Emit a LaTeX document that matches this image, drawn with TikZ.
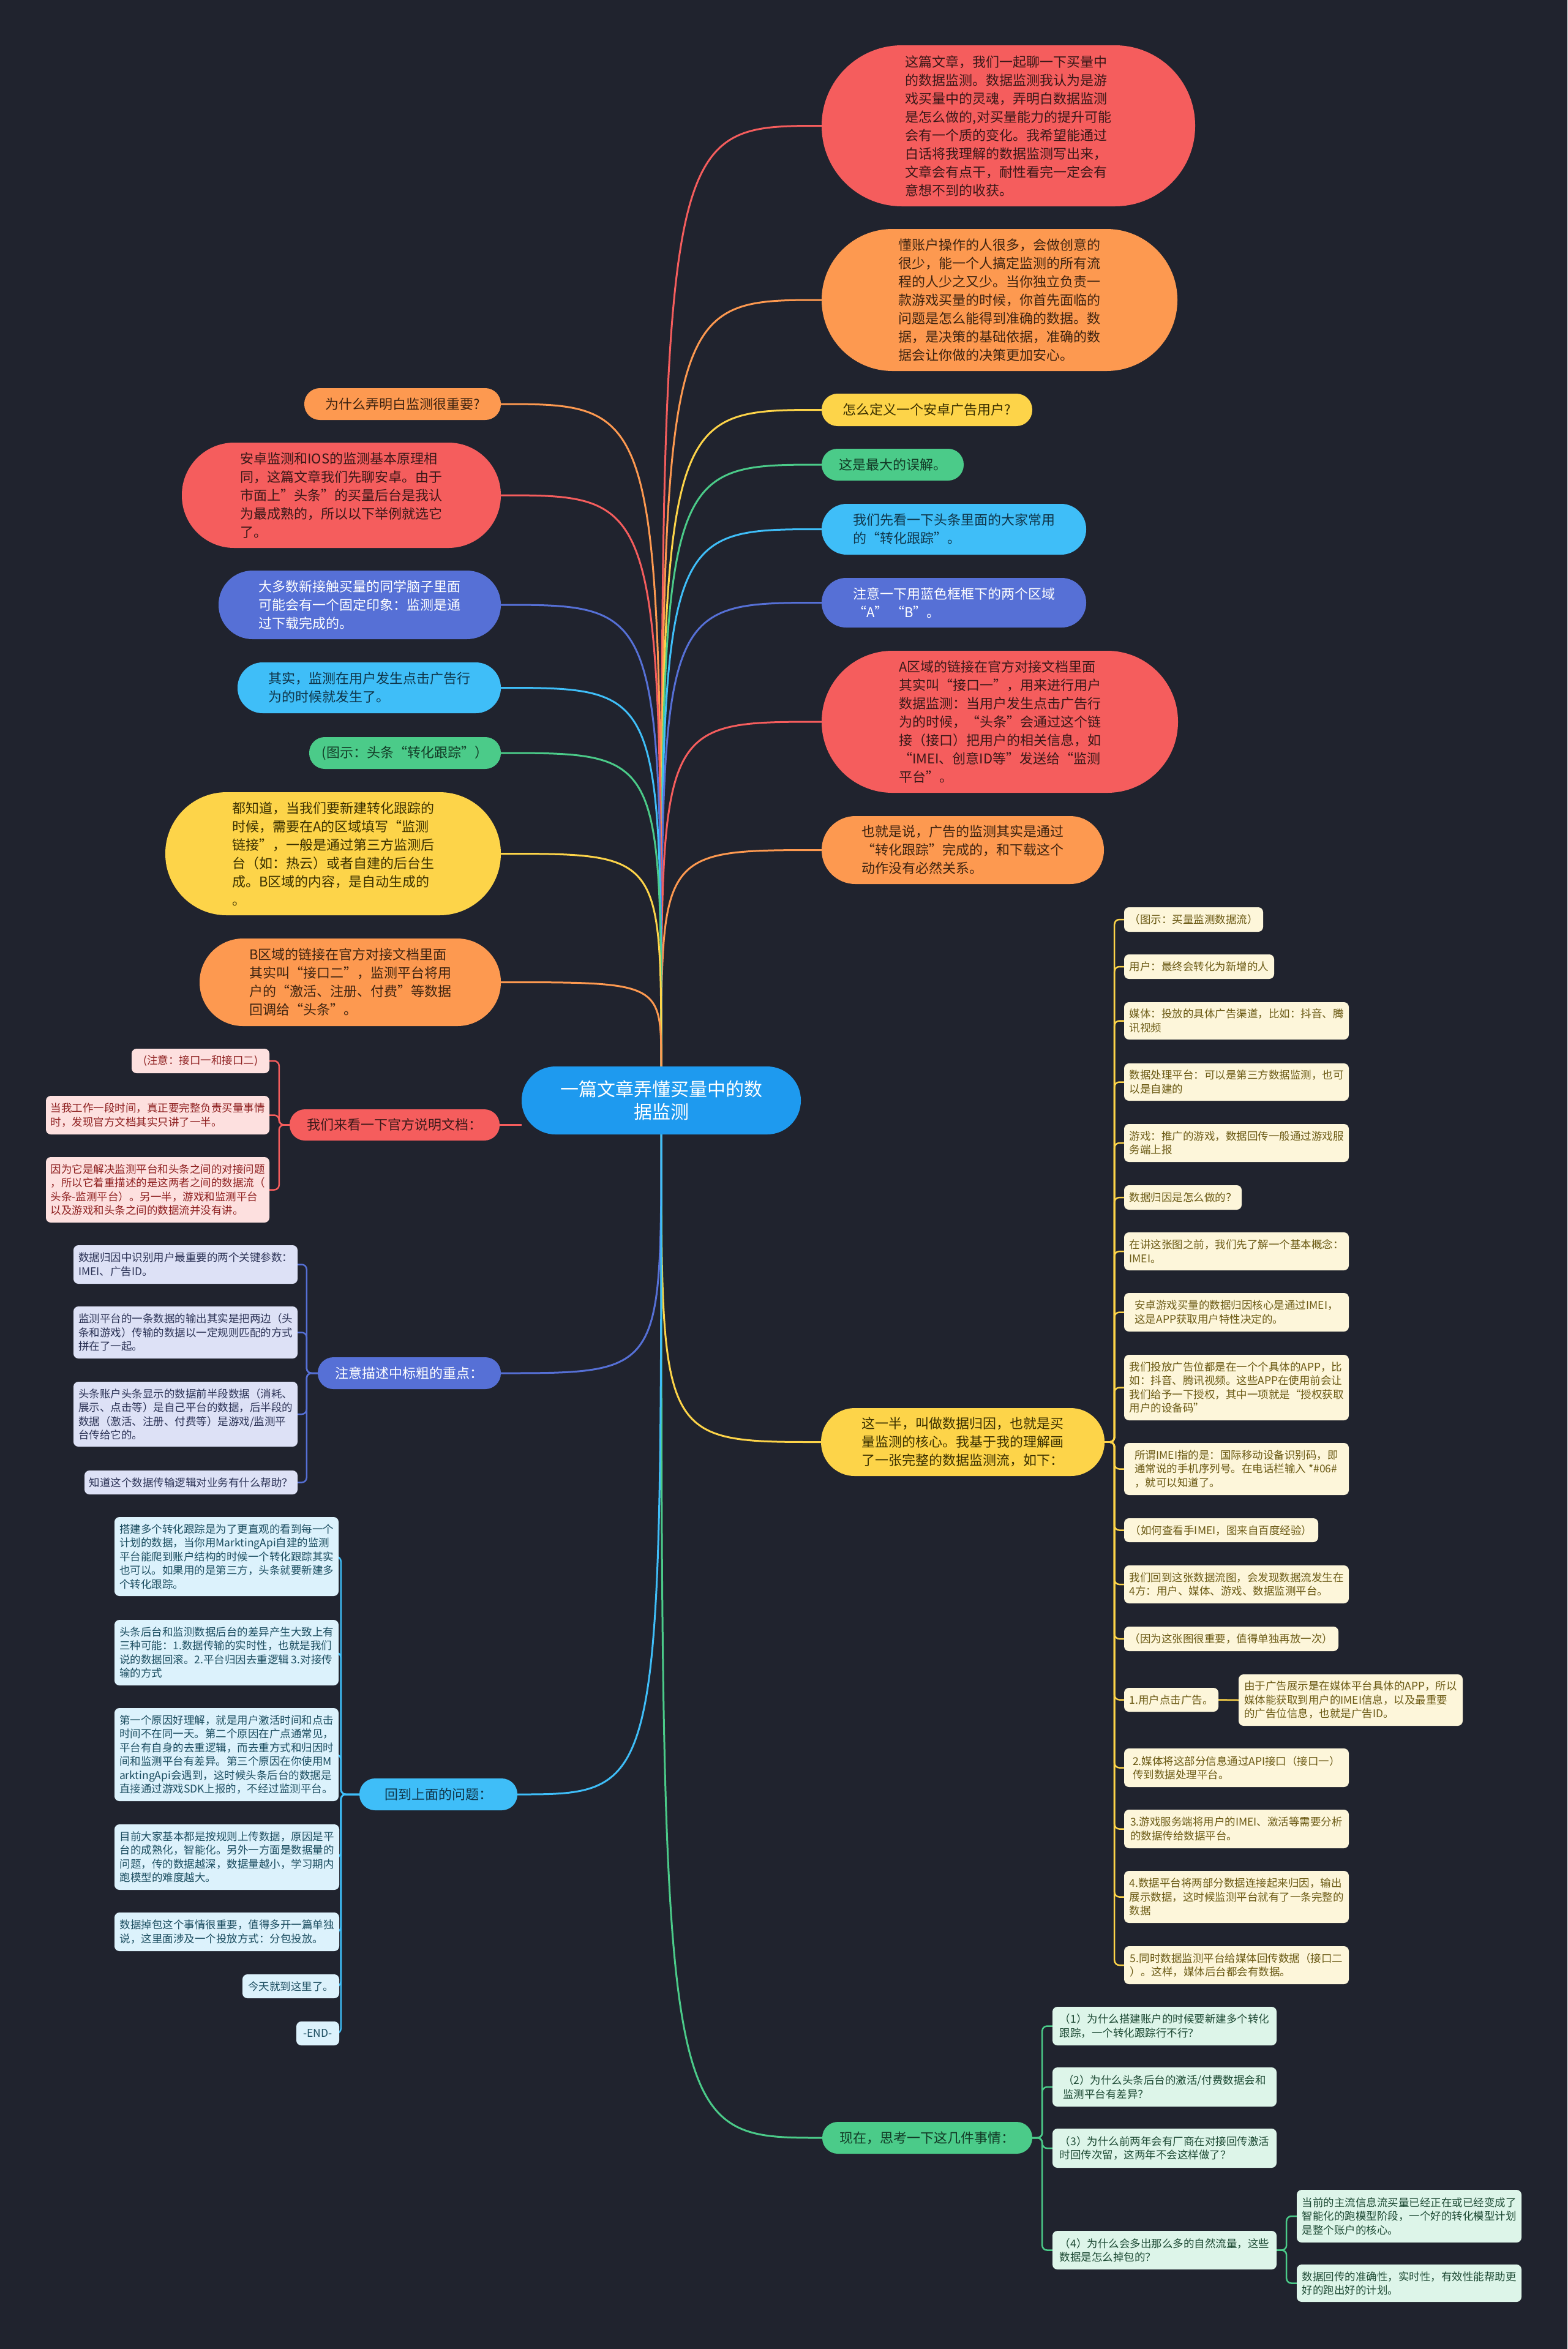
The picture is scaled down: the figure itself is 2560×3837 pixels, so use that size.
\documentclass[tikz,border=0pt]{standalone}
\usepackage{fontspec}
\setmainfont{Noto Sans CJK SC}
\usetikzlibrary{calc}
\definecolor{bgc}{HTML}{20232E}
\definecolor{ccenter}{HTML}{1E9AEF}
\definecolor{cred}{HTML}{F55D5D}
\definecolor{corange}{HTML}{FD9950}
\definecolor{cyellow}{HTML}{FDD449}
\definecolor{cgreen}{HTML}{4BCB89}
\definecolor{ccyan}{HTML}{3FBEF8}
\definecolor{cblue}{HTML}{5670D6}
\definecolor{tred}{HTML}{3A1818}
\definecolor{torange}{HTML}{3D2310}
\definecolor{tyellow}{HTML}{3A3000}
\definecolor{tgreen}{HTML}{123A26}
\definecolor{tcyan}{HTML}{0F3549}
\definecolor{fpink}{HTML}{FDE0DF}
\definecolor{tpink}{HTML}{8E1F1F}
\definecolor{flav}{HTML}{DDE1F6}
\definecolor{tlav}{HTML}{2C3356}
\definecolor{flcyan}{HTML}{DCF2FC}
\definecolor{tlcyan}{HTML}{1B4D60}
\definecolor{fcream}{HTML}{FDF6DA}
\definecolor{tcream}{HTML}{6B5A14}
\definecolor{fmint}{HTML}{DDF5E9}
\definecolor{tmint}{HTML}{1D4A34}
\pgfdeclarelayer{background}
\pgfsetlayers{background,main}
\tikzset{
  lone/.style={inner sep=0pt, align=left, font=\fontsize{22pt}{30pt}\selectfont},
  ltwo/.style={inner sep=0pt, align=left, rounded corners=8pt, font=\fontsize{17.5pt}{22.5pt}\selectfont},
  pinkbox/.style={ltwo, fill=fpink, text=tpink},
  lavbox/.style={ltwo, fill=flav, text=tlav},
  cyanbox/.style={ltwo, fill=flcyan, text=tlcyan},
  creambox/.style={ltwo, fill=fcream, text=tcream},
  mintbox/.style={ltwo, fill=fmint, text=tmint},
  conn/.style={line width=3pt},
  bus/.style={line width=2.5pt, rounded corners=8pt},
}
\begin{document}
\begin{tikzpicture}[x=1pt,y=-1pt]
\useasboundingbox (0,0) rectangle (2560,3837);

% ---------- centre ----------
\node[lone, fill=ccenter, text=white, minimum width=456, minimum height=111, rounded corners=55, font=\fontsize{30pt}{37pt}\selectfont, align=center] (C) at (1080,1797.5) {一篇文章弄懂买量中的数\\据监测};

% ---------- right level 1 ----------
\node[lone, fill=cred, text=tred, minimum width=610, minimum height=263, rounded corners=131] (r1) at (1647,205.5) {这篇文章，我们一起聊一下买量中\\的数据监测。数据监测我认为是游\\戏买量中的灵魂，弄明白数据监测\\是怎么做的,对买量能力的提升可能\\会有一个质的变化。我希望能通过\\白话将我理解的数据监测写出来，\\文章会有点干，耐性看完一定会有\\意想不到的收获。};
\node[lone, fill=corange, text=torange, minimum width=581, minimum height=232, rounded corners=115.5] (r2) at (1632.5,490) {懂账户操作的人很多，会做创意的\\很少，能一个人搞定监测的所有流\\程的人少之又少。当你独立负责一\\款游戏买量的时候，你首先面临的\\问题是怎么能得到准确的数据。数\\据，是决策的基础依据，准确的数\\据会让你做的决策更加安心。};
\node[lone, fill=cyellow, text=tyellow, minimum width=344, minimum height=53, rounded corners=26] (r3) at (1514,669.5) {怎么定义一个安卓广告用户?};
\node[lone, fill=cgreen, text=tgreen, minimum width=232, minimum height=52, rounded corners=25.5] (r4) at (1458,759) {这是最大的误解。};
\node[lone, fill=ccyan, text=tcyan, minimum width=432, minimum height=83, rounded corners=41] (r5) at (1558,864.5) {我们先看一下头条里面的大家常用\\的“转化跟踪”。};
\node[lone, fill=cblue, text=white, minimum width=432, minimum height=81, rounded corners=40] (r6) at (1558,984.5) {注意一下用蓝色框框下的两个区域\\“A” “B”。};
\node[lone, fill=cred, text=tred, minimum width=582, minimum height=232, rounded corners=115.5] (r7) at (1633,1179) {A区域的链接在官方对接文档里面\\其实叫“接口一”，用来进行用户\\数据监测：当用户发生点击广告行\\为的时候，“头条”会通过这个链\\接（接口）把用户的相关信息，如\\“IMEI、创意ID等”发送给“监测\\平台”。};
\node[lone, fill=corange, text=torange, minimum width=461, minimum height=111, rounded corners=55] (r8) at (1572.5,1388.5) {也就是说，广告的监测其实是通过\\“转化跟踪”完成的，和下载这个\\动作没有必然关系。};
\node[lone, fill=cyellow, text=tyellow, minimum width=463, minimum height=111, rounded corners=55] (r9) at (1572.5,2355.5) {这一半，叫做数据归因，也就是买\\量监测的核心。我基于我的理解画\\了一张完整的数据监测流，如下：};
\node[lone, fill=cgreen, text=tgreen, minimum width=343, minimum height=52, rounded corners=25.5] (r10) at (1514.5,3492) {现在，思考一下这几件事情：};

% ---------- left level 1 ----------
\node[lone, fill=corange, text=torange, minimum width=321, minimum height=52, rounded corners=25.5] (l1) at (657.5,660) {为什么弄明白监测很重要?};
\node[lone, fill=cred, text=tred, minimum width=521, minimum height=172, rounded corners=85.5] (l2) at (557.5,809) {安卓监测和IOS的监测基本原理相\\同，这篇文章我们先聊安卓。由于\\市面上”头条”的买量后台是我认\\为最成熟的，所以以下举例就选它\\了。};
\node[lone, fill=cblue, text=white, minimum width=461, minimum height=112, rounded corners=55.5] (l3) at (587.5,988) {大多数新接触买量的同学脑子里面\\可能会有一个固定印象：监测是通\\过下载完成的。};
\node[lone, fill=ccyan, text=tcyan, minimum width=430, minimum height=83, rounded corners=41] (l4) at (603,1123.5) {其实，监测在用户发生点击广告行\\为的时候就发生了。};
\node[lone, fill=cgreen, text=tgreen, minimum width=313, minimum height=52, rounded corners=25.5] (l5) at (661.5,1230) {(图示：头条“转化跟踪”）};
\node[lone, fill=cyellow, text=tyellow, minimum width=548, minimum height=201, rounded corners=100] (l6) at (544,1394.5) {都知道，当我们要新建转化跟踪的\\时候，需要在A的区域填写“监测\\链接”，一般是通过第三方监测后\\台（如：热云）或者自建的后台生\\成。B区域的内容，是自动生成的\\。};
\node[lone, fill=corange, text=torange, minimum width=492, minimum height=143, rounded corners=71] (l7) at (572,1604.5) {B区域的链接在官方对接文档里面\\其实叫“接口二”，监测平台将用\\户的“激活、注册、付费”等数据\\回调给“头条”。};
\node[lone, fill=cred, text=tred, minimum width=343, minimum height=51, rounded corners=25] (l8) at (644.5,1837.5) {我们来看一下官方说明文档：};
\node[lone, fill=cblue, text=white, minimum width=299, minimum height=52, rounded corners=25.5] (l9) at (668.5,2243) {注意描述中标粗的重点：};
\node[lone, fill=ccyan, text=tcyan, minimum width=258, minimum height=52, rounded corners=25.5] (l10) at (716,2931) {回到上面的问题：};

% ---------- children of l8 ----------
\node[pinkbox, minimum width=225, minimum height=40] (l8a) at (327.5,1733) {(注意：接口一和接口二)};
\node[pinkbox, minimum width=365, minimum height=63] (l8b) at (257.5,1821.5) {当我工作一段时间，真正要完整负责买量事情\\时，发现官方文档其实只讲了一半。};
\node[pinkbox, minimum width=365, minimum height=107] (l8c) at (257.5,1943.5) {因为它是解决监测平台和头条之间的对接问题\\，所以它着重描述的是这两者之间的数据流（\\头条-监测平台）。另一半，游戏和监测平台\\以及游戏和头条之间的数据流并没有讲。};

% ---------- children of l9 ----------
\node[lavbox, minimum width=366, minimum height=63] (l9a) at (303,2065.5) {数据归因中识别用户最重要的两个关键参数：\\IMEI、广告ID。};
\node[lavbox, minimum width=366, minimum height=85] (l9b) at (303,2176.5) {监测平台的一条数据的输出其实是把两边（头\\条和游戏）传输的数据以一定规则匹配的方式\\拼在了一起。};
\node[lavbox, minimum width=366, minimum height=106] (l9c) at (303,2310) {头条账户头条显示的数据前半段数据（消耗、\\展示、点击等）是自己平台的数据，后半段的\\数据（激活、注册、付费等）是游戏/监测平\\台传给它的。};
\node[lavbox, minimum width=348, minimum height=39] (l9d) at (312,2421.5) {知道这个数据传输逻辑对业务有什么帮助？};

% ---------- children of l10 ----------
\node[cyanbox, minimum width=366, minimum height=129] (l10a) at (370,2542.5) {搭建多个转化跟踪是为了更直观的看到每一个\\计划的数据，当你用MarktingApi自建的监测\\平台能爬到账户结构的时候一个转化跟踪其实\\也可以。如果用的是第三方，头条就要新建多\\个转化跟踪。};
\node[cyanbox, minimum width=366, minimum height=107] (l10b) at (370,2699.5) {头条后台和监测数据后台的差异产生大致上有\\三种可能：1.数据传输的实时性，也就是我们\\说的数据回滚。2.平台归因去重逻辑 3.对接传\\输的方式};
\node[cyanbox, minimum width=366, minimum height=152] (l10c) at (370,2866) {第一个原因好理解，就是用户激活时间和点击\\时间不在同一天。第二个原因在广点通常见，\\平台有自身的去重逻辑，而去重方式和归因时\\间和监测平台有差异。第三个原因在你使用M\\arktingApi会遇到，这时候头条后台的数据是\\直接通过游戏SDK上报的，不经过监测平台。};
\node[cyanbox, minimum width=367, minimum height=107] (l10d) at (370.5,3033.5) {目前大家基本都是按规则上传数据，原因是平\\台的成熟化，智能化。另外一方面是数据量的\\问题，传的数据越深，数据量越小，学习期内\\跑模型的难度越大。};
\node[cyanbox, minimum width=367, minimum height=63] (l10e) at (370.5,3155.5) {数据掉包这个事情很重要，值得多开一篇单独\\说，这里面涉及一个投放方式：分包投放。};
\node[cyanbox, minimum width=158, minimum height=39] (l10f) at (475,3244.5) {今天就到这里了。};
\node[cyanbox, minimum width=70, minimum height=39] (l10g) at (519,3321.5) {-END-};

% ---------- children of r9 ----------
\node[creambox, minimum width=227, minimum height=40] (y1) at (1949.5,1502) {（图示：买量监测数据流）};
\node[creambox, minimum width=245, minimum height=40] (y2) at (1958.5,1579) {用户：最终会转化为新增的人};
\node[creambox, minimum width=367, minimum height=61] (y3) at (2019.5,1667.5) {媒体：投放的具体广告渠道，比如：抖音、腾\\讯视频};
\node[creambox, minimum width=367, minimum height=61] (y4) at (2019.5,1767.5) {数据处理平台：可以是第三方数据监测，也可\\以是自建的};
\node[creambox, minimum width=367, minimum height=62] (y5) at (2019.5,1867) {游戏：推广的游戏，数据回传一般通过游戏服\\务端上报};
\node[creambox, minimum width=192, minimum height=40] (y6) at (1932,1956) {数据归因是怎么做的？};
\node[creambox, minimum width=367, minimum height=62] (y7) at (2019.5,2044) {在讲这张图之前，我们先了解一个基本概念：\\IMEI。};
\node[creambox, minimum width=367, minimum height=63] (y8) at (2019.5,2143.5) {安卓游戏买量的数据归因核心是通过IMEI，\\这是APP获取用户特性决定的。};
\node[creambox, minimum width=367, minimum height=107] (y9) at (2019.5,2266.5) {我们投放广告位都是在一个个具体的APP，比\\如：抖音、腾讯视频。这些APP在使用前会让\\我们给予一下授权，其中一项就是“授权获取\\用户的设备码”};
\node[creambox, minimum width=367, minimum height=85] (y10) at (2019.5,2399.5) {所谓IMEI指的是：国际移动设备识别码，即\\通常说的手机序列号。在电话栏输入 *\#06\#\\，就可以知道了。};
\node[creambox, minimum width=317, minimum height=39] (y11) at (1994.5,2499.5) {（如何查看手IMEI，图来自百度经验）};
\node[creambox, minimum width=367, minimum height=62] (y12) at (2019.5,2588) {我们回到这张数据流图，会发现数据流发生在\\4方：用户、媒体、游戏、数据监测平台。};
\node[creambox, minimum width=350, minimum height=40] (y13) at (2011,2677) {（因为这张图很重要，值得单独再放一次）};
\node[creambox, minimum width=154, minimum height=39] (y14) at (1913,2776.5) {1.用户点击广告。};
\node[creambox, minimum width=366, minimum height=84] (y14a) at (2206,2777) {由于广告展示是在媒体平台具体的APP，所以\\媒体能获取到用户的IMEI信息，以及最重要\\的广告位信息，也就是广告ID。};
\node[creambox, minimum width=367, minimum height=63] (y15) at (2019.5,2887.5) {2.媒体将这部分信息通过API接口（接口一）\\传到数据处理平台。};
\node[creambox, minimum width=367, minimum height=63] (y16) at (2019.5,2987.5) {3.游戏服务端将用户的IMEI、激活等需要分析\\的数据传给数据平台。};
\node[creambox, minimum width=367, minimum height=85] (y17) at (2019.5,3098.5) {4.数据平台将两部分数据连接起来归因，输出\\展示数据，这时候监测平台就有了一条完整的\\数据};
\node[creambox, minimum width=367, minimum height=62] (y18) at (2019.5,3210) {5.同时数据监测平台给媒体回传数据（接口二\\）。这样，媒体后台都会有数据。};

% ---------- children of r10 ----------
\node[mintbox, minimum width=366, minimum height=63] (g1) at (1902,3309.5) {（1）为什么搭建账户的时候要新建多个转化\\跟踪，一个转化跟踪行不行？};
\node[mintbox, minimum width=366, minimum height=64] (g2) at (1902,3409) {（2）为什么头条后台的激活/付费数据会和\\监测平台有差异？};
\node[mintbox, minimum width=366, minimum height=64] (g3) at (1902,3509) {（3）为什么前两年会有厂商在对接回传激活\\时回传次留，这两年不会这样做了？};
\node[mintbox, minimum width=366, minimum height=63] (g4) at (1902,3675.5) {（4）为什么会多出那么多的自然流量，这些\\数据是怎么掉包的？};
\node[mintbox, minimum width=367, minimum height=86] (g4a) at (2301.5,3620) {当前的主流信息流买量已经正在或已经变成了\\智能化的跑模型阶段，一个好的转化模型计划\\是整个账户的核心。};
\node[mintbox, minimum width=367, minimum height=61] (g4b) at (2301.5,3729.5) {数据回传的准确性，实时性，有效性能帮助更\\好的跑出好的计划。};

\begin{pgfonlayer}{background}
\fill[bgc] (0,0) rectangle (2560,3837);
% centre to right, upper
\foreach \n/\c in {r1/cred, r2/corange, r3/cyellow, r4/cgreen, r5/ccyan, r6/cblue, r7/cred, r8/corange}
  \draw[conn, \c] (C.north) .. controls (C.north |- \n.west) .. (\n.west);
% centre to left, upper
\foreach \n/\c in {l1/corange, l2/cred, l3/cblue, l4/ccyan, l5/cgreen, l6/cyellow, l7/corange}
  \draw[conn, \c] (C.north) .. controls (C.north |- \n.east) .. (\n.east);
\draw[conn, cred] (l8.east) -- (l8.east -| C.west);
% centre to lower
\foreach \n/\c in {r9/cyellow, r10/cgreen}
  \draw[conn, \c] (C.south) .. controls (C.south |- \n.west) .. (\n.west);
\foreach \n/\c in {l9/cblue, l10/ccyan}
  \draw[conn, \c] (C.south) .. controls (C.south |- \n.east) .. (\n.east);
% buses
\foreach \n in {l8a,l8b,l8c}
  \draw[bus, cred] (l8.west) -- ++(-17,0) |- (\n.east);
\foreach \n in {l9a,l9b,l9c,l9d}
  \draw[bus, cblue] (l9.west) -- ++(-18,0) |- (\n.east);
\foreach \n in {l10a,l10b,l10c,l10d,l10e,l10f,l10g}
  \draw[bus, ccyan] (l10.west) -- ++(-30,0) |- (\n.east);
\foreach \n in {y1,y2,y3,y4,y5,y6,y7,y8,y9,y10,y11,y12,y13,y14,y15,y16,y17,y18}
  \draw[bus, cyellow] (r9.east) -- ++(16,0) |- (\n.west);
\draw[bus, cyellow] (y14.east) -- (y14a.west);
\foreach \n in {g1,g2,g3,g4}
  \draw[bus, cgreen] (r10.east) -- ++(16,0) |- (\n.west);
\foreach \n in {g4a,g4b}
  \draw[bus, cgreen] (g4.east) -- ++(16,0) |- (\n.west);
\end{pgfonlayer}
\end{tikzpicture}
\end{document}
